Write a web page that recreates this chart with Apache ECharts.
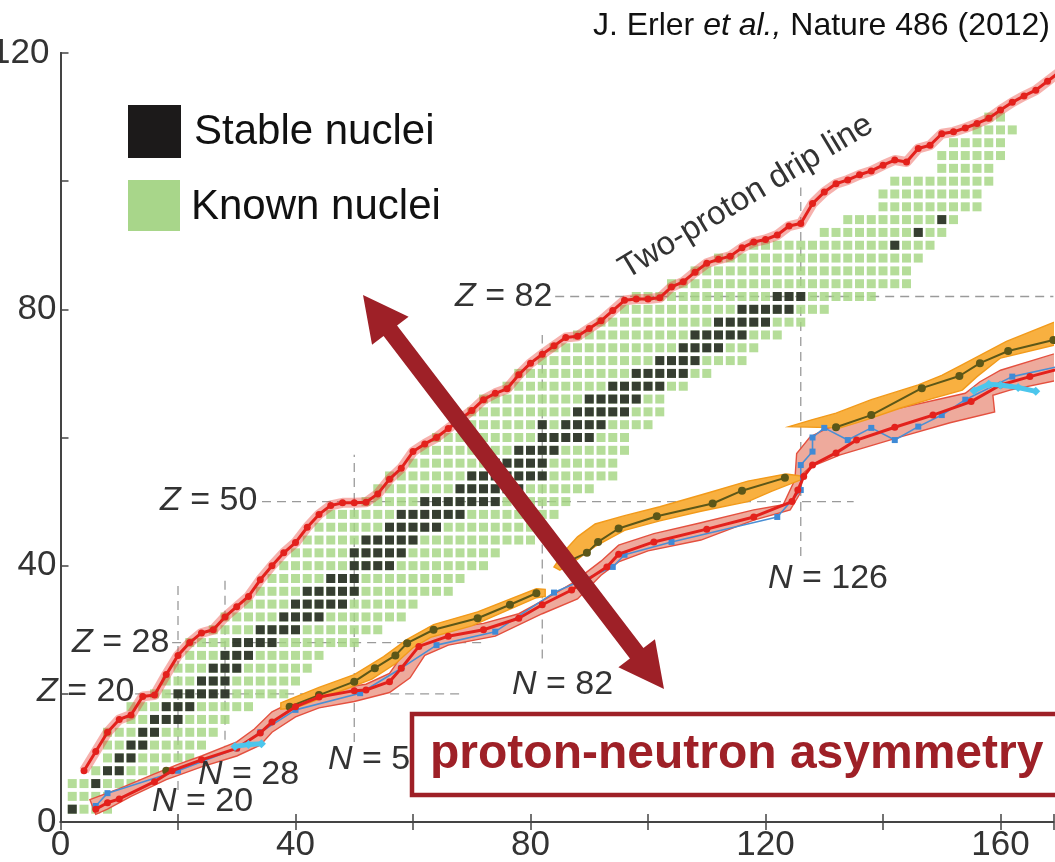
<!DOCTYPE html>
<html><head><meta charset="utf-8">
<script src="https://cdn.jsdelivr.net/npm/echarts@6/dist/echarts.min.js"></script>
<style>html,body{margin:0;padding:0;background:#fff}#c{width:1055px;height:862px}</style>
</head><body><div id="c"></div>
<script>
// ---------------- data ----------------
const knownZ    = [2,4,6,8,10,12,14,16,18,20,22,24,26,28,30,32,34,36,38,40,42,44,46,48,50,52,54,56,58,60,62,64,66,68,70,72,74,76,78,80,82,84,86,88,90,92,94,96,98,100,102,104,106,108,110];
const knownMinN = [2,2,2,6,8,8,8,12,12,16,18,20,22,22,26,28,32,34,36,38,40,42,44,46,52,54,56,60,62,64,68,70,72,76,78,82,84,88,92,96,98,104,108,112,118,130,134,140,140,142,150,150,152,156,158];
const knownMaxN = [8,8,14,16,22,24,26,28,32,38,40,42,44,50,54,58,60,66,68,72,74,80,80,84,86,90,94,94,96,96,100,102,102,106,110,116,118,122,126,130,138,144,144,146,148,150,152,156,156,158,158,160,160,162,160];

const stableZ = [2,6,8,10,12,14,16,18,20,22,24,26,28,30,32,34,36,38,40,42,44,46,48,50,52,54,56,58,60,62,64,66,68,70,72,74,76,78,80,82,90,92,94];
const stableN = [[2],[6],[8,10],[10,12],[12,14],[14,16],[16,18,20],[18,20,22],[20,22,24,26,28],[24,26,28],[26,28,30],[28,30,32],[30,32,34,36],[34,36,38,40],[38,40,42,44],[40,42,44,46,48],[42,44,46,48,50],[46,48,50],[50,52,54,56],[50,52,54,56,58],[52,54,56,58,60],[56,58,60,62,64],[58,60,62,64,66,68],[62,64,66,68,70,72,74],[68,70,72,74,76,78],[70,72,74,76,78,80,82],[74,76,78,80,82],[78,80,82,84],[82,84,86,88,90],[82,86,88,90,92],[88,90,92,94,96],[90,92,94,96,98],[94,96,98,100,102],[98,100,102,104,106],[102,104,106,108],[106,108,110,112],[108,110,112,114,116],[112,114,116,118,120],[116,118,120,122,124],[122,124,126],[142],[146],[150]];

// two-proton drip line
const upperN = [4,6,8,10,12,14,16,18,20,22,24,26,28,30,32,34,36,38,40,42,44,46,48,50,52,54,56,58,60,62,64,66,68,70,72,74,76,78,80,82,84,86,88,90,92,94,96,98,100,102,104,106,108,110,112,114,116,118,120,122,124,126,128,130,132,134,136,138,140,142,144,146,148,150,152,154,156,158,160,162,164,166,168,170];
const upperZ = [8,11,14,16,16.7,19.6,19.8,23,26,28,29.5,30,32,33.6,35.2,37.8,40,42,43.6,46,48,49.4,49.8,49.8,49.9,51.2,53.5,55.2,57.8,59,60,61.4,62.8,64.2,65.9,66.9,67.6,69.8,71.6,73,74.3,75.6,75.8,77,78.2,79.8,81.4,81.6,81.6,81.8,83.5,84.3,85.8,87.2,87.8,88.3,89.6,90.5,90.9,91.6,93,93.4,96.5,98.3,99.6,100.2,101,101.6,102.5,103.3,103,105.1,105.6,107.4,107.7,108.3,109,109.8,111.1,112.3,113.3,114.2,115.6,117];

// neutron-rich side: red model line
const lowerRedN = [6,8,10,16,19,24,30,34,36,40,44,50,52,56,58,61,66,72,78,82,87,93,95,101,110,118,124.5,125.5,126.5,128,132,135.5,142,148.5,155,160,165,170];
const lowerRedZ = [2,3,3.6,6.3,8,9.7,11.5,13.9,15.6,18,19.5,20.5,20.6,21.9,24,27.4,29,30,31.8,33.9,36.2,39.8,41.8,43.7,45.7,47.6,50,51.8,53.9,55.7,57.6,59.6,61.6,63.5,65.6,68.2,69.5,70.7];
// blue model line
const blueN = [6,8,20,30,34,40,51,58,64,74,84,94,96,104,122,126,126,128,128,130,134,138,142,146,150,154,162,170];
const blueZ = [2.5,4.5,8,11.5,14,17.5,20.1,24,27.6,29.7,35.8,39.8,41.7,43.7,47.6,51.8,55.7,57.8,60,61.5,59.6,61.5,59.6,61.7,63.5,65.9,69.5,71.1];
// olive model line (segments)
const olive0N = [18], olive0Z = [8];
const olive1N = [39,44,50,53.5,57,59,63.5,71,76.5,81];
const olive1Z = [18,19.8,21.9,24,26,27.9,30,31.8,33.9,35.7];
const olive2N = [86,89.6,91.5,95,101.5,111,116,123.3];
const olive2Z = [40.5,42,43.7,45.8,47.7,49.7,51.7,53.7];
const olive3N = [132,138,146.6,153,156.5,161.3,169];
const olive3Z = [61.6,63.5,67.7,69.6,71.6,73.5,75.2];
// cyan model line (segments)
const cyan1N = [29.7,32,34.2], cyan1Z = [11.8,12.1,12.2];
const cyan2N = [155.5,158,160,163,166], cyan2Z = [67.3,68.3,68.2,67.8,67.2];

// uncertainty bands, outlines as [N, Z] (upper edge left->right, then lower edge right->left)
const pinkBand = [[5,3.5],[10,5.2],[16,7.5],[20,9],[24,10.3],[30,12.5],[33,14.5],[36,17.2],[40,19],[46,20.7],[52,21.5],[56,23.2],[58,25.8],[61,28.6],[66,30.2],[72,31],[78,32.5],[82,34.5],[87,37.2],[92,40.7],[95,43.2],[101,45],[109,46.7],[118,48.7],[123,49.5],[125,53.4],[125.3,57.5],[127.6,60.1],[130.4,61.4],[140,64],[154,66.9],[156.5,68.7],[160,70.5],[170,73.3],
  [170,69],[161.6,67.4],[158.7,66.6],[159,64],[151.4,62.3],[143,60.1],[132.7,57.3],[127.6,55.4],[126.4,54.4],[125.9,51.3],[124.2,48.7],[118,47.1],[109,44],[100,42.3],[95,40.6],[92,38.5],[88,34.8],[82,32.5],[74,29],[66,27.6],[62,26],[59.5,22.5],[56,20.2],[50,18.8],[44,17.8],[40,16.4],[36,14],[34,12],[30,10.3],[24,8.6],[18,6.6],[12,4],[8,2],[6,1.2]];
const orangeBand1 = [[37.5,18.6],[44,21],[50,23],[55,25.8],[59,28.5],[63.5,30.8],[71,32.8],[81,36.4],[82.5,36.3],
  [82.5,35.2],[81,35],[70,30.6],[63,28.8],[60,27.2],[57,24.7],[53,22.3],[47.6,20.4],[40,17.8],[37.5,17.6]];
const orangeBand2 = [[84,39.8],[86,42.5],[88,44.5],[91,46.5],[96,47.8],[102,49.2],[110,51.3],[117,53.2],[123.5,54.3],[126,54],
  [126,53.4],[121,51.6],[117,50],[109,48.5],[102,47],[96,45.5],[91,43],[88,41],[85,39.3]];
const orangeBand3 = [[124,61.7],[128,62.8],[132,63.8],[138,65.9],[146,68.2],[150,69.7],[154,71.6],[161,75],[170,78.3],
  [170,74.6],[160,72.4],[156,69.5],[153.5,67.4],[148.5,66.1],[143,64.6],[137,62.7],[132.7,61.5],[124,61.7]];

// magic-number guide lines: [fixed value, from, to]
const magicZ = [[20,12.7,68],[28,19,72],[50,34.3,135],[82,84.2,169]];
const magicN = [[20,5,37],[28,10.5,38.5],[50,12.5,57.3],[82,25.5,76],[126,41.5,99]];

// ---------------- chart ----------------
const FONT = '"Liberation Sans", Arial, Helvetica, sans-serif';
const GREEN = '#a3d47f';
const zip = (a,b)=>a.map((v,i)=>[v,b[i]]);

const greenData = [];
knownZ.forEach((z,i)=>{ for(let n=knownMinN[i]; n<=knownMaxN[i]; n+=2) greenData.push([n,z]); });
const blackData = [];
stableZ.forEach((z,i)=> stableN[i].forEach(n=>blackData.push([n,z])));

const series = [];
magicZ.forEach(m=>series.push({type:'line', data:[[m[1],m[0]],[m[2],m[0]]], symbol:'none', silent:true, z:1,
  lineStyle:{type:[9,6], color:'#9a9a9a', width:1.3}}));
magicN.forEach(m=>series.push({type:'line', data:[[m[0],m[1]],[m[0],m[2]]], symbol:'none', silent:true, z:1,
  lineStyle:{type:[9,6], color:'#9a9a9a', width:1.3}}));
series.push({type:'scatter', data:greenData, symbol:'rect', symbolSize:9, itemStyle:{color:GREEN}, silent:true, z:2});
series.push({type:'scatter', data:blackData, symbol:'rect', symbolSize:9, itemStyle:{color:'#161616'}, silent:true, z:3});

function band(poly, fill, stroke, z){
  return {type:'custom', data:[poly[0]], silent:true, z:z, clip:true,
    renderItem:(params, api)=>({type:'polygon', shape:{points: poly.map(p=>api.coord(p))},
      style:{fill:fill, stroke:stroke, lineWidth:1.4}})};
}
series.push(band(pinkBand, '#eeaa9c', '#e4503f', 4));
series.push(band(orangeBand1, '#f8b040', '#f29a1a', 5));
series.push(band(orangeBand2, '#f8b040', '#f29a1a', 5));
series.push(band(orangeBand3, '#f8b040', '#f29a1a', 5));

// two-proton drip line: band of models + mean
series.push({type:'line', data:zip(upperN,upperZ), symbol:'none', silent:true, z:6,
  lineStyle:{color:'rgba(232,60,50,0.4)', width:10, join:'round'}});
series.push({type:'line', data:zip(upperN,upperZ), symbol:'circle', symbolSize:7, silent:true, z:7,
  lineStyle:{color:'#e3211c', width:3}, itemStyle:{color:'#e3211c'}});

// neutron-rich side lines
const oliveStyle = {lineStyle:{color:'#5c5718', width:2}, itemStyle:{color:'#5c5718'}, symbol:'circle', symbolSize:8, silent:true, z:9};
[[olive0N,olive0Z],[olive1N,olive1Z],[olive2N,olive2Z],[olive3N,olive3Z]].forEach(s=>series.push(Object.assign({type:'line', data:zip(s[0],s[1])}, oliveStyle)));
series.push({type:'line', data:zip(blueN,blueZ), symbol:'rect', symbolSize:6, silent:true, z:10,
  lineStyle:{color:'#4a8fd4', width:1.6}, itemStyle:{color:'#3f8ad6'}});
series.push({type:'line', data:zip(lowerRedN,lowerRedZ), symbol:'circle', symbolSize:7, silent:true, z:11,
  lineStyle:{color:'#e3211c', width:3}, itemStyle:{color:'#e3211c'}});
[[cyan1N,cyan1Z],[cyan2N,cyan2Z]].forEach(s=>series.push({type:'line', data:zip(s[0],s[1]), symbol:'diamond', symbolSize:9, silent:true, z:12,
  lineStyle:{color:'#4cc6ec', width:5}, itemStyle:{color:'#4cc6ec'}}));

const axisCol = '#444';
const lab = {fontSize:35, color:'#333', fontFamily:FONT};
const option = {
  animation:false,
  backgroundColor:'#fff',
  grid:{left:60.5, top:53, width:992.9, height:769, containLabel:false, outerBoundsMode:'none'},
  xAxis:[
    {type:'value', min:0, max:169, interval:20, position:'bottom',
     axisLine:{show:true, lineStyle:{color:axisCol, width:2}},
     axisTick:{show:true, inside:true, length:8, lineStyle:{color:axisCol, width:1.5}},
     axisLabel:Object.assign({margin:6, formatter:v=>(v%40===0?String(v):'')}, lab),
     splitLine:{show:false}},
    {type:'value', min:0, max:169, interval:20, position:'top',
     axisLine:{show:true, lineStyle:{color:axisCol, width:2}},
     axisTick:{show:true, inside:true, length:8, lineStyle:{color:axisCol, width:1.5}},
     axisLabel:{show:false}, splitLine:{show:false}}
  ],
  yAxis:[
    {type:'value', min:0, max:120, interval:20, position:'left',
     axisLine:{show:true, lineStyle:{color:axisCol, width:2}},
     axisTick:{show:true, inside:true, length:8, lineStyle:{color:axisCol, width:1.5}},
     axisLabel:Object.assign({margin:4, formatter:v=>(v===120?'{c|120}':(v%40===0?String(v):'')),
       rich:{c:{fontSize:35, color:'#333', fontFamily:FONT, padding:[0,7,0,0]}}}, lab),
     splitLine:{show:false}},
    {type:'value', min:0, max:120, interval:20, position:'right',
     axisLine:{show:true, lineStyle:{color:axisCol, width:2}},
     axisTick:{show:false}, axisLabel:{show:false}, splitLine:{show:false}}
  ],
  series:series
};

function txt(x,y,text,size,opts){
  return Object.assign({type:'text', x:x, y:y, z:100, silent:true,
    style:Object.assign({text:text, fontSize:size, fontFamily:FONT, fill:'#333',
      align:'left', verticalAlign:'middle', textAlign:'left', textVerticalAlign:'middle'}, (opts&&opts.style)||{})},
    (opts&&opts.el)||{});
}
function it(size){ return {fontSize:size, fontFamily:FONT, fontStyle:'italic', fill:'#333', color:'#333'}; }
function nm(size){ return {fontSize:size, fontFamily:FONT, fill:'#333', color:'#333'}; }
function magicLabel(x,y,sym,val){
  return txt(x,y,'{i|'+sym+'}{n| = '+val+'}',34,{style:{rich:{i:it(34), n:nm(34)}}});
}

function arrowPts(x1,y1,x2,y2,hl,hw,sw){
  const dx=x2-x1, dy=y2-y1, L=Math.hypot(dx,dy), ux=dx/L, uy=dy/L, px=-uy, py=ux;
  const b1x=x1+ux*hl, b1y=y1+uy*hl, b2x=x2-ux*hl, b2y=y2-uy*hl;
  return [[x1,y1],[b1x+px*hw,b1y+py*hw],[b1x+px*sw,b1y+py*sw],[b2x+px*sw,b2y+py*sw],[b2x+px*hw,b2y+py*hw],[x2,y2],
          [b2x-px*hw,b2y-py*hw],[b2x-px*sw,b2y-py*sw],[b1x-px*sw,b1y-py*sw],[b1x-px*hw,b1y-py*hw]];
}
const DARKRED = '#9e2027';

option.graphic = {elements:[
  {type:'rect', shape:{x:128, y:105, width:53, height:53}, style:{fill:'#1c1a1a'}, z:100},
  {type:'rect', shape:{x:128, y:180, width:52, height:51}, style:{fill:'#a8d68a'}, z:100},
  txt(194,132,'Stable nuclei',42,{style:{fill:'#111'}}),
  txt(191,207,'Known nuclei',42,{style:{fill:'#111'}}),
  txt(1050,26,'{n|J. Erler }{i|et al.,}{n| Nature 486 (2012)}',32,
      {style:{align:'right', textAlign:'right', rich:{i:Object.assign(it(32),{fill:'#111',color:'#111'}), n:Object.assign(nm(32),{fill:'#111',color:'#111'})}}}),
  magicLabel(455,297,'Z','82'),
  magicLabel(160,501,'Z','50'),
  magicLabel(72,643,'Z','28'),
  magicLabel(37,692,'Z','20'),
  magicLabel(152,802,'N','20'),
  magicLabel(198,775,'N','28'),
  magicLabel(328,760,'N','50'),
  magicLabel(512,685,'N','82'),
  magicLabel(768,579,'N','126'),
  txt(746,197,'Two-proton drip line',33,{style:{align:'center', textAlign:'center'}, el:{rotation:31*Math.PI/180}}),
  {type:'polygon', shape:{points:arrowPts(363,295,664,689,45,23,8.5)}, style:{fill:DARKRED}, z:110},
  {type:'rect', shape:{x:412, y:714, width:700, height:81}, style:{fill:'#fff', stroke:DARKRED, lineWidth:4.5}, z:120},
  txt(430,755,'proton-neutron asymmetry',48,{style:{fill:DARKRED, fontWeight:'bold'}, el:{z:121}})
]};

const chart = echarts.init(document.getElementById('c'), null, {renderer:'canvas'});
chart.setOption(option);
</script>
</body></html>
